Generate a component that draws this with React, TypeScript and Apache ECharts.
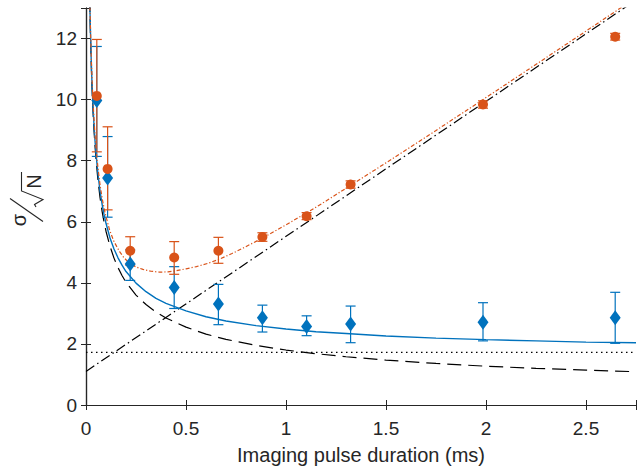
import React, { useEffect, useRef } from "react";
import * as echarts from "echarts";

// Measured points (x in ms)
const pointX = [0.054, 0.108, 0.221, 0.441, 0.662, 0.882, 1.103, 1.323, 1.985, 2.646];
const blueY = [9.97, 7.43, 4.62, 3.85, 3.31, 2.86, 2.57, 2.65, 2.71, 2.86];
const blueLo = [8.14, 6.15, 4.08, 3.16, 2.63, 2.39, 2.27, 2.04, 2.1, 2.02];
const blueHi = [11.74, 8.79, 5.08, 4.53, 3.95, 3.27, 2.92, 3.24, 3.35, 3.69];
const orangeY = [10.12, 7.73, 5.05, 4.83, 5.05, 5.5, 6.18, 7.22, 9.84, 12.06];
const orangeLo = [8.29, 6.39, 4.58, 4.28, 4.64, 5.36, 6.07, 7.1, 9.72, 11.95];
const orangeHi = [11.97, 9.11, 5.51, 5.35, 5.49, 5.64, 6.3, 7.34, 9.96, 12.17];

// Fit curves
const fitX = [0.015, 0.0175, 0.02, 0.025, 0.03, 0.035, 0.04, 0.045, 0.05, 0.06, 0.07, 0.08, 0.09, 0.1, 0.12, 0.14, 0.16, 0.18, 0.2, 0.25, 0.3, 0.35, 0.4, 0.5, 0.6, 0.7, 0.85, 1.0, 1.15, 1.3, 1.5, 1.75, 2.0, 2.25, 2.5, 2.75];
const dashedY = [14.7, 13.61, 12.73, 11.38, 10.39, 9.62, 9.0, 8.49, 8.05, 7.35, 6.8, 6.36, 6.0, 5.69, 5.2, 4.81, 4.5, 4.24, 4.02, 3.6, 3.29, 3.04, 2.85, 2.55, 2.32, 2.15, 1.95, 1.8, 1.68, 1.58, 1.47, 1.36, 1.27, 1.2, 1.14, 1.09];
const blueFitY = [14.8, 13.72, 12.85, 11.51, 10.53, 9.77, 9.16, 8.66, 8.23, 7.55, 7.01, 6.59, 6.24, 5.95, 5.47, 5.11, 4.82, 4.58, 4.37, 3.99, 3.71, 3.49, 3.33, 3.08, 2.89, 2.75, 2.6, 2.49, 2.4, 2.34, 2.26, 2.19, 2.14, 2.1, 2.06, 2.04];
const orangeFitX = [0.015, 0.0175, 0.02, 0.025, 0.03, 0.035, 0.04, 0.045, 0.05, 0.06, 0.07, 0.08, 0.09, 0.1, 0.118, 0.14, 0.168, 0.19, 0.218, 0.25, 0.285, 0.325, 0.368, 0.41, 0.452, 0.5, 0.552, 0.61, 0.669, 0.73, 0.786, 0.886, 1.0, 1.103, 1.2, 1.32, 1.45, 1.571, 1.75, 1.98, 2.3, 2.673, 2.75];
const orangeFitY = [14.85, 13.8, 12.95, 11.65, 10.7, 9.95, 9.35, 8.85, 8.42, 7.75, 7.22, 6.8, 6.45, 6.17, 5.73, 5.35, 5.02, 4.82, 4.64, 4.52, 4.44, 4.38, 4.35, 4.36, 4.4, 4.46, 4.53, 4.64, 4.78, 4.96, 5.14, 5.48, 5.9, 6.29, 6.68, 7.18, 7.72, 8.23, 8.99, 9.98, 11.37, 13.0, 13.34];
const lineX = [0, 2.75];
const linearY = [1.1, 13.26];
const floorY = [1.72, 1.72];

const xTicks = { min: 0, max: 2.75, interval: 0.5 };
const yTicks = { min: 0, max: 13, interval: 2 };

const BLUE = "#0072BD";
const ORANGE = "#D95319";
const AX = "#262626";
const FONT = "Liberation Sans, Arial, sans-serif";

function errSeries(color: string, lo: number[], hi: number[], name: string) {
  return {
    type: "custom",
    name,
    data: pointX.map((x, i) => [x, lo[i], hi[i]]),
    encode: { x: 0, y: [1, 2] },
    z: 3,
    renderItem: (params: any, api: any) => {
      const x = api.value(0);
      const p0 = api.coord([x, api.value(1)]);
      const p1 = api.coord([x, api.value(2)]);
      const w = 5;
      const st = { stroke: color, lineWidth: 1.2 };
      return {
        type: "group",
        children: [
          { type: "line", shape: { x1: p0[0], y1: p0[1], x2: p1[0], y2: p1[1] }, style: st },
          { type: "line", shape: { x1: p0[0] - w, y1: p0[1], x2: p0[0] + w, y2: p0[1] }, style: st },
          { type: "line", shape: { x1: p1[0] - w, y1: p1[1], x2: p1[0] + w, y2: p1[1] }, style: st },
        ],
      };
    },
  };
}

export default function App() {
  const ref = useRef<HTMLDivElement>(null);
  useEffect(() => {
    document.body.style.margin = "0";
    const chart = echarts.init(ref.current!, null, { renderer: "svg" });
    const axisCommon = {
      axisLine: { show: true, lineStyle: { color: AX, width: 1.2 } },
      axisTick: { show: true, inside: true, length: 5, lineStyle: { color: AX } },
      splitLine: { show: false },
    };
    chart.setOption({
      animation: false,
      backgroundColor: "#fff",
      grid: { left: 86, right: 5, top: 8, bottom: 63, containLabel: false, outerBoundsMode: "none" },
      xAxis: [
        {
          type: "value",
          ...xTicks,
          ...axisCommon,
          position: "bottom",
          axisLabel: {
            color: AX,
            fontSize: 19,
            fontFamily: FONT,
            margin: 14,
            formatter: (v: number) => (v > 2.7 ? "" : String(v)),
          },
          name: "Imaging pulse duration (ms)",
          nameLocation: "middle",
          nameGap: 40,
          nameTextStyle: { color: AX, fontSize: 20, fontFamily: FONT },
        },
        {
          type: "value",
          ...xTicks,
          ...axisCommon,
          position: "top",
          axisLabel: { show: false },
        },
      ],
      yAxis: [
        {
          type: "value",
          ...yTicks,
          ...axisCommon,
          position: "left",
          axisLabel: {
            color: AX,
            fontSize: 19,
            fontFamily: FONT,
            margin: 9,
            formatter: (v: number) => (v > 12.5 ? "" : String(v)),
          },
        },
        {
          type: "value",
          ...yTicks,
          ...axisCommon,
          position: "right",
          axisLabel: { show: false },
        },
      ],
      graphic: [
        {
          type: "group",
          x: 27,
          y: 200,
          rotation: Math.PI / 2,
          silent: true,
          children: [
            {
              type: "text",
              x: -20,
              y: -8,
              style: {
                text: "σ",
                fill: AX,
                font: "20px " + FONT,
                textAlign: "center",
                textVerticalAlign: "middle",
              },
            },
            {
              type: "line",
              shape: { x1: -21.5, y1: 16, x2: 1.5, y2: -17 },
              style: { stroke: AX, lineWidth: 1.1 },
            },
            {
              type: "polyline",
              shape: { points: [[-7, 9], [-4.5, 7.5], [0.5, 16], [9, -5.5], [28, -5.5]] },
              style: { stroke: AX, lineWidth: 1.1, fill: "none" },
            },
            {
              type: "text",
              x: 18.5,
              y: 7,
              style: {
                text: "N",
                fill: AX,
                font: "20px " + FONT,
                textAlign: "center",
                textVerticalAlign: "middle",
              },
            },
          ],
        },
      ],
      series: [
        {
          type: "line",
          data: lineX.map((x, i) => [x, floorY[i]]),
          showSymbol: false,
          lineStyle: { color: "#000", width: 1.3, type: [1.5, 3.5] },
          z: 2,
        },
        {
          type: "line",
          data: lineX.map((x, i) => [x, linearY[i]]),
          showSymbol: false,
          lineStyle: { color: "#000", width: 1.2, type: [10, 3.5, 1.5, 3.5] },
          z: 2,
        },
        {
          type: "line",
          data: fitX.map((x, i) => [x, dashedY[i]]),
          showSymbol: false,
          lineStyle: { color: "#000", width: 1.2, type: [14, 7] },
          z: 2,
        },
        errSeries(BLUE, blueLo, blueHi, "blueErr"),
        errSeries(ORANGE, orangeLo, orangeHi, "orangeErr"),
        {
          type: "line",
          data: fitX.map((x, i) => [x, blueFitY[i]]),
          showSymbol: false,
          lineStyle: { color: BLUE, width: 1.4 },
          z: 4,
        },
        {
          type: "line",
          data: orangeFitX.map((x, i) => [x, orangeFitY[i]]),
          showSymbol: false,
          lineStyle: { color: ORANGE, width: 1.2, type: [4, 2, 1.2, 2] },
          z: 4,
        },
        {
          type: "scatter",
          data: pointX.map((x, i) => [x, blueY[i]]),
          symbol: "diamond",
          symbolSize: [11, 15],
          itemStyle: { color: BLUE, opacity: 1 },
          z: 5,
        },
        {
          type: "scatter",
          data: pointX.map((x, i) => [x, orangeY[i]]),
          symbol: "circle",
          symbolSize: 10,
          itemStyle: { color: ORANGE, opacity: 1 },
          z: 5,
        },
      ],
    });
    return () => chart.dispose();
  }, []);
  return <div ref={ref} style={{ width: 641, height: 468 }} />;
}
